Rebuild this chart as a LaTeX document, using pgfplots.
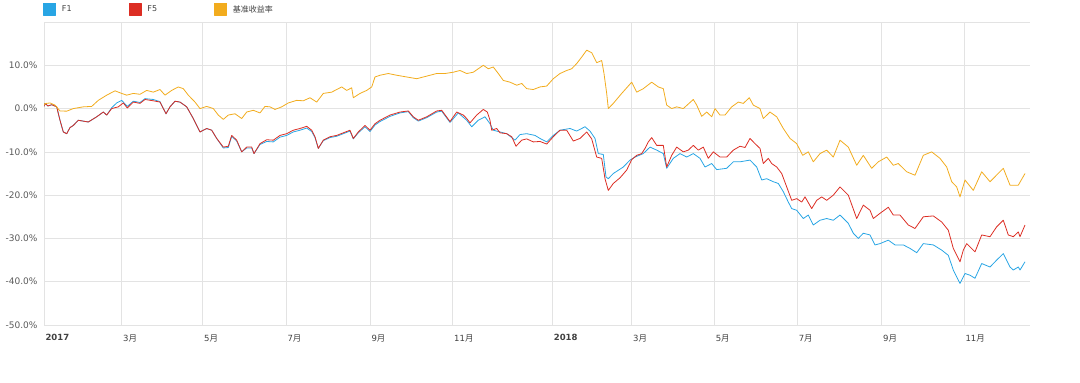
\documentclass[border=0pt]{standalone}
\usepackage{pgfplots}
\pgfplotsset{compat=1.18}
\usepackage{fontspec}
\setmainfont{DejaVu Sans}
\newfontfamily\cjk{Noto Sans CJK SC}
\definecolor{cone}{RGB}{40,165,228}
\definecolor{cfive}{RGB}{220,45,35}
\definecolor{cbench}{RGB}{242,172,30}
\definecolor{lbl}{RGB}{90,90,90}
\begin{document}
\begin{tikzpicture}
\useasboundingbox (0,0) rectangle (1080pt,383pt);
\begin{axis}[
  at={(44pt,58pt)}, anchor=south west,
  width=986pt, height=303pt, scale only axis,
  xmin=44, xmax=1030, ymin=-50, ymax=20,
  axis line style={draw=none},
  major tick length=0pt,
  ytick={-50,-40,-30,-20,-10,0,10,20},
  yticklabels={-50.0\%,-40.0\%,-30.0\%,-20.0\%,-10.0\%,0.0\%,10.0\%,{}},
  xtick={44,121.7,202.7,286,370,452.7,552.3,631.7,714.3,797.3,881.7,964},
  xticklabels={\textbf{2017},3{\cjk 月},5{\cjk 月},7{\cjk 月},9{\cjk 月},11{\cjk 月},\textbf{2018},3{\cjk 月},5{\cjk 月},7{\cjk 月},9{\cjk 月},11{\cjk 月}},
  xticklabel style={anchor=north west, xshift=-2pt, yshift=-6pt, font=\fontsize{8.5}{9}\selectfont, text=black!75},
  yticklabel style={anchor=east, xshift=-3pt, font=\fontsize{9}{10}\selectfont, text=lbl},
  grid=major,
  major grid style={color=black!11, line width=0.6pt},
  extra y ticks={0}, extra y tick labels={},
  extra y tick style={grid style={color=black!33, line width=1.4pt}},
  legend columns=3,
  legend style={draw=none, fill=none, at={(axis description cs:0,1)}, anchor=south west, yshift=4pt, xshift=-4pt,
    font=\fontsize{8}{9}\selectfont, text=black!75,
    /tikz/every odd column/.append style={column sep=4pt},
    /tikz/every even column/.append style={column sep=55pt}},
  legend image code/.code={\fill[#1] (0pt,-6pt) rectangle (12pt,6pt);},
  every axis plot/.append style={line width=0.8pt, line join=round},
]
\addplot[color=cone] coordinates {
(44,0.5)(45,1.2)(48,0.6)(51.7,0.9)(56.7,0.4)(60,-2.7)(63.3,-5.4)(66.7,-5.8)(70,-4.4)(73.3,-3.9)(78.3,-2.7)(88.3,-3.1)(96.7,-1.9)(103.3,-0.8)(106.7,-1.5)(111.7,0.2)(116.7,1.3)(121.7,1.9)(127.3,0.5)(133.3,1.7)(140,1.4)(145,2.3)(153.3,2.1)(160,1.6)(166,-1.2)(170,0.4)(175,1.7)(180,1.5)(186.7,0.4)(193.3,-2.3)(200,-5.4)(206.7,-4.6)(211.7,-5.0)(216.7,-6.9)(223.3,-9.1)(228.3,-9.0)(231.7,-6.4)(236.7,-7.5)(241.7,-10.0)(246.7,-9.1)(251.7,-9.1)(254,-10.4)(260,-8.3)(266.7,-7.6)(273.3,-7.7)(280,-6.6)(286.7,-6.2)(293.3,-5.4)(300,-5.0)(306.7,-4.5)(311.7,-5.3)(315,-6.7)(318.3,-9.2)(323.3,-7.4)(330,-6.7)(336.7,-6.4)(343.3,-5.8)(350,-5.2)(353.3,-7.0)(358.3,-5.6)(365,-4.2)(370,-5.3)(375,-3.8)(380,-3.0)(390,-1.8)(400,-1.0)(408.3,-0.7)(413.3,-2.1)(418.3,-2.9)(426.7,-2.1)(436.7,-0.8)(441.7,-0.6)(450,-3.2)(458.3,-1.0)(466.7,-2.7)(471.7,-4.2)(478.3,-2.7)(485,-1.9)(490,-3.5)(493.3,-5.0)(500,-5.4)(506.7,-5.8)(515,-7.3)(520,-6.0)(526.7,-5.8)(535,-6.2)(540,-6.9)(546.7,-7.7)(553.3,-6.2)(560,-5.0)(570,-4.6)(576.7,-5.2)(585,-4.2)(590,-5.2)(595,-6.9)(598.3,-10.4)(603.3,-10.6)(606,-15.8)(608.3,-16.2)(613.3,-15.0)(623.3,-13.5)(630,-11.9)(635,-11.2)(643.3,-10.4)(650,-8.9)(656.7,-9.6)(663.3,-10.4)(666.7,-13.8)(673.3,-11.5)(680,-10.4)(686.7,-11.2)(693.3,-10.4)(700,-11.5)(705,-13.5)(711.7,-12.7)(716.7,-14.1)(726.7,-13.8)(733.3,-12.3)(740,-12.3)(750,-11.9)(756.7,-13.5)(761.7,-16.5)(766.7,-16.2)(773.3,-16.9)(778.3,-17.3)(783.3,-19.2)(788.3,-21.6)(791.7,-23.1)(796.7,-23.5)(803.3,-25.4)(808.3,-24.6)(813.3,-26.9)(820,-25.8)(826.7,-25.4)(833.3,-25.8)(840,-24.6)(848.3,-26.5)(853.3,-28.8)(858.3,-30.0)(863.3,-28.8)(870,-29.2)(875,-31.5)(880,-31.2)(888.3,-30.4)(895,-31.5)(903.3,-31.5)(910,-32.3)(916.7,-33.3)(923.3,-31.2)(933.3,-31.5)(941.7,-32.7)(948.3,-33.9)(953.3,-37.3)(960,-40.4)(965,-38.1)(970,-38.5)(975,-39.2)(981.7,-35.8)(990,-36.6)(996.7,-35.0)(1003.3,-33.5)(1010,-36.6)(1013.3,-37.3)(1018.3,-36.6)(1020,-37.3)(1025,-35.4)
};
\addlegendentry{F1}
\addplot[color=cfive] coordinates {
(44,0.5)(45,1.2)(48,0.6)(51.7,0.9)(56.7,0.4)(60,-2.7)(63.3,-5.4)(66.7,-5.8)(70,-4.4)(73.3,-3.9)(78.3,-2.7)(88.3,-3.1)(96.7,-1.9)(103.3,-0.8)(106.7,-1.5)(111.7,0)(118.3,0.4)(123.3,1.3)(127.3,0.15)(133.3,1.5)(140,1.2)(145,2.1)(153.3,1.8)(160,1.5)(166,-1.2)(170,0.4)(175,1.7)(180,1.5)(186.7,0.4)(193.3,-2.3)(200,-5.4)(206.7,-4.6)(211.7,-5.0)(216.7,-6.9)(223.3,-8.9)(228.3,-8.7)(231.7,-6.2)(236.7,-7.3)(241.7,-10.0)(246.7,-8.9)(251.7,-8.9)(254,-10.4)(260,-8.1)(266.7,-7.2)(273.3,-7.3)(280,-6.2)(286.7,-5.8)(293.3,-5.0)(300,-4.6)(306.7,-4.1)(311.7,-5.0)(315,-6.5)(318.3,-9.2)(323.3,-7.3)(330,-6.5)(336.7,-6.2)(343.3,-5.6)(350,-5.0)(353.3,-6.9)(358.3,-5.4)(365,-3.9)(370,-5.0)(375,-3.5)(380,-2.7)(390,-1.5)(400,-0.8)(408.3,-0.55)(413.3,-1.9)(418.3,-2.7)(426.7,-1.9)(436.7,-0.55)(441.7,-0.4)(450,-3.0)(456.7,-0.8)(463.3,-1.5)(466.7,-2.3)(470,-3.3)(476.7,-1.5)(483.3,-0.2)(487.3,-0.8)(490,-2.7)(491.7,-5.0)(496.7,-4.6)(500,-5.6)(506.7,-5.8)(511.7,-6.5)(516,-8.7)(521.7,-7.3)(526.7,-7.0)(533.3,-7.7)(540,-7.6)(546.7,-8.2)(553.3,-6.5)(560,-5.0)(566.7,-5.0)(573.3,-7.5)(580,-6.9)(586.7,-5.4)(591.7,-7.0)(596.7,-11.2)(601.7,-11.5)(605,-16.2)(608.3,-18.9)(613.3,-17.3)(620,-16.0)(626.7,-14.2)(631.7,-11.8)(636.7,-10.8)(641.7,-10.4)(645,-9.2)(648.3,-7.7)(651.7,-6.7)(656.7,-8.5)(663.3,-8.5)(666.7,-13.5)(671.7,-10.8)(676.7,-8.9)(683.3,-10.0)(688.3,-9.6)(693.3,-8.5)(698.3,-9.6)(703.3,-8.9)(708.3,-11.5)(713.3,-10.0)(720,-11.2)(726.7,-11.2)(733.3,-9.6)(740,-8.7)(745,-9.0)(750,-6.9)(755,-8.1)(760,-9.2)(763.3,-12.7)(768.3,-11.5)(771.7,-12.7)(776.7,-13.5)(781.7,-15.0)(786.7,-18.1)(791.7,-21.2)(796.7,-20.8)(801.7,-21.6)(805,-20.4)(811.7,-23.1)(816.7,-21.2)(821.7,-20.4)(826.7,-21.2)(833.3,-20.0)(840,-18.1)(848.3,-20.0)(856.7,-25.4)(863.3,-22.3)(870,-23.5)(873.3,-25.4)(880,-24.2)(888.3,-22.8)(893.3,-24.6)(900,-24.6)(908.3,-26.9)(915,-27.7)(923.3,-25.0)(933.3,-24.8)(941.7,-26.2)(948.3,-28.1)(953.3,-32.3)(960,-35.4)(963.3,-32.7)(966.7,-31.2)(975,-33.1)(981.7,-29.2)(990,-29.6)(996.7,-27.3)(1003.3,-25.8)(1008.3,-29.2)(1013.3,-29.6)(1018.3,-28.5)(1020,-29.6)(1025,-26.9)
};
\addlegendentry{F5}
\addplot[color=cbench] coordinates {
(44,0.8)(45,1.15)(50,1.3)(55,0.8)(60,-0.55)(66.7,-0.6)(73.3,0)(83.3,0.4)(91.7,0.5)(98.3,1.9)(106.7,3.1)(115,4.1)(121.7,3.5)(126.7,3.1)(133.3,3.5)(140,3.3)(146.7,4.2)(153.3,3.8)(160,4.4)(165,3.1)(171.7,4.2)(178.3,5.0)(183.3,4.6)(188.3,3.1)(195,1.5)(200,0)(206.7,0.5)(213.3,0)(218.3,-1.5)(223.3,-2.5)(228.3,-1.5)(235,-1.2)(241.7,-2.3)(246.7,-0.8)(253.3,-0.4)(260,-1.0)(265,0.5)(270,0.4)(275,-0.2)(281.7,0.4)(288.3,1.3)(296.7,1.9)(303.3,1.8)(310,2.5)(316.7,1.5)(323.3,3.5)(331.7,3.8)(341.7,5.0)(346.7,4.2)(351.7,4.8)(353.3,2.5)(360,3.5)(366.7,4.2)(371.7,5.0)(375,7.3)(380,7.7)(388.3,8.1)(396.7,7.7)(406.7,7.3)(416.7,6.9)(426.7,7.5)(436.7,8.1)(445,8.1)(453.3,8.4)(460,8.8)(466.7,8.1)(473.3,8.4)(478.3,9.2)(483.3,10.0)(488.3,9.2)(493.3,9.6)(498.3,8.1)(503.3,6.5)(510,6.1)(516.7,5.4)(521.7,5.8)(526.7,4.6)(533.3,4.4)(540,5.0)(546.7,5.2)(553.3,6.9)(560,8.1)(566.7,8.8)(571.7,9.2)(576.7,10.4)(581.7,11.9)(586.7,13.5)(591.7,12.9)(596.7,10.6)(601.7,11.1)(604,8.1)(606.7,3.5)(608.3,0)(613.3,1.2)(621.7,3.5)(631.7,6.1)(636.7,3.8)(643.3,4.6)(651.7,6.1)(658.3,5.0)(663.3,4.6)(666.7,0.8)(671.7,0)(676.7,0.4)(683.3,0)(693.3,2.1)(696.7,0.8)(701.7,-1.8)(706.7,-0.8)(711.7,-1.9)(715,0)(720,-1.5)(725,-1.5)(731.7,0.4)(738.3,1.5)(743.3,1.2)(749.3,2.5)(753.3,0.8)(760,0)(763.3,-2.3)(770,-0.8)(776.7,-1.9)(783.3,-4.6)(790,-6.9)(796.7,-8.1)(802.7,-10.8)(808.3,-10.0)(813.3,-12.3)(820,-10.4)(826.7,-9.6)(833.3,-11.2)(840,-7.3)(848.3,-8.9)(856.7,-13.1)(863.3,-10.8)(871.7,-13.8)(878.3,-12.3)(886.7,-11.2)(893.3,-13.1)(898.3,-12.7)(906.7,-14.6)(915,-15.4)(923.3,-10.8)(931.7,-10.0)(940,-11.5)(946.7,-13.5)(951.7,-16.9)(956.7,-18.1)(960,-20.4)(965,-16.5)(973.3,-18.9)(981.7,-14.6)(990,-16.9)(1003.3,-13.8)(1010,-17.7)(1018.3,-17.7)(1025,-15.0)
};
\addlegendentry{{\cjk 基准收益率}}
\end{axis}
\end{tikzpicture}
\end{document}
